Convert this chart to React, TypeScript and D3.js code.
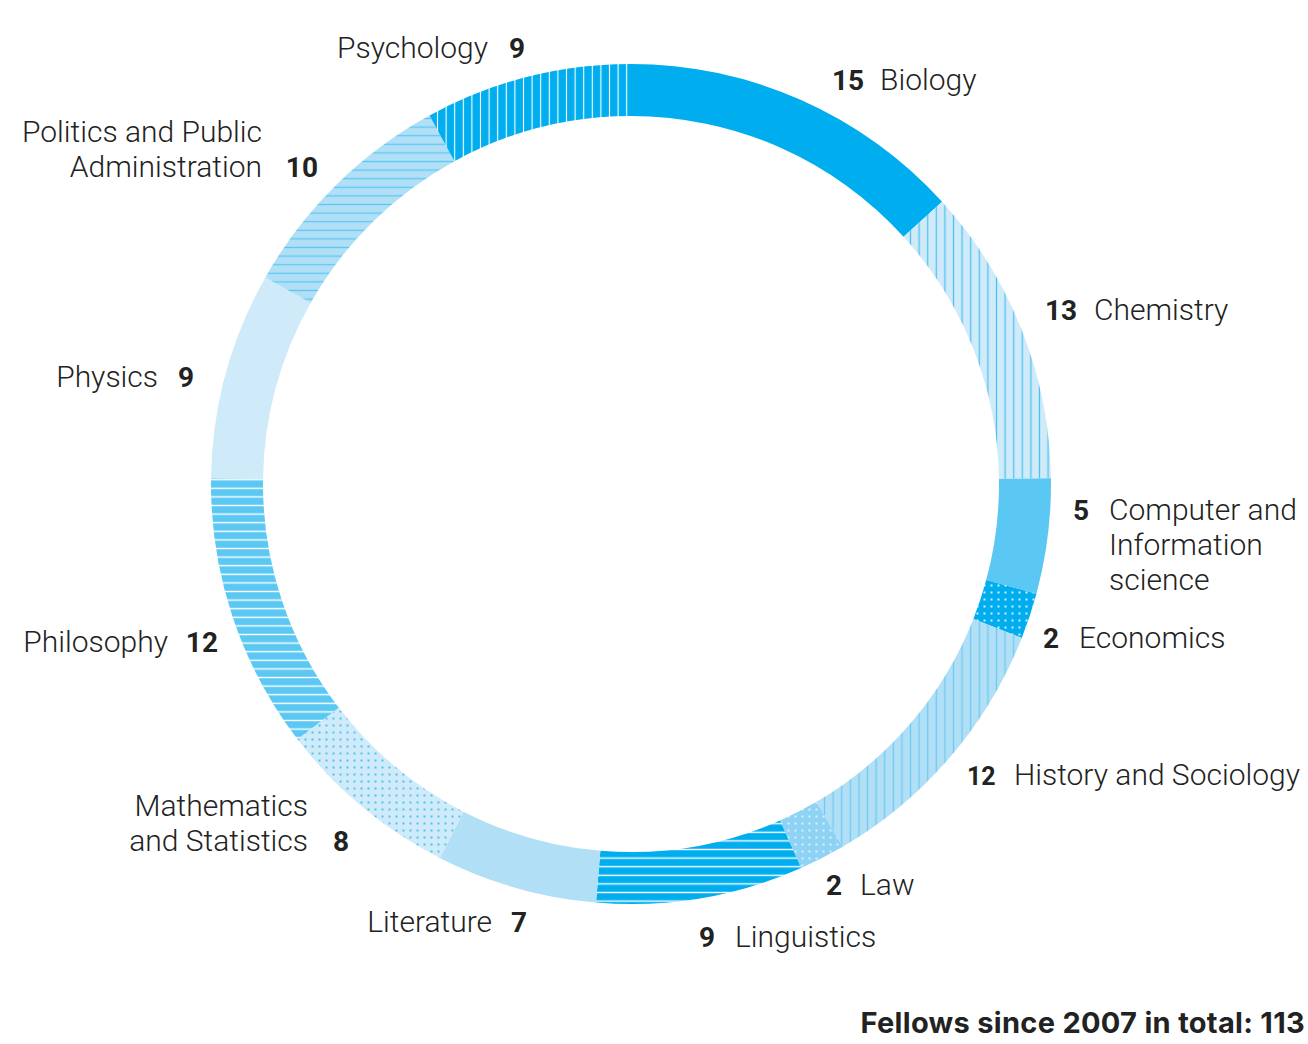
import * as d3 from 'd3';

const subjects = [
  'Biology', 'Chemistry', 'Computer and Information science', 'Economics',
  'History and Sociology', 'Law', 'Linguistics', 'Literature',
  'Mathematics and Statistics', 'Philosophy', 'Physics',
  'Politics and Public Administration', 'Psychology',
];
const fellows = [15, 13, 5, 2, 12, 2, 9, 7, 8, 12, 9, 10, 9];
const total = 113;

// fill style per subject (pattern id or colour)
const fills = [
  '#00aeef', 'url(#p-chem)', '#5bc8f3', 'url(#p-econ)',
  'url(#p-hist)', 'url(#p-law)', 'url(#p-ling)', '#b1dff6',
  'url(#p-math)', 'url(#p-phil)', '#cfeaf9', 'url(#p-pol)', 'url(#p-psy)',
];

// label layout: name lines, number x, name x, baseline of the number's line
type Lbl = { lines: string[]; nx: number; tx: number; y: number; numFirst: boolean; numSize?: number };
const labels: Lbl[] = [
  { lines: ['Biology'], nx: 832, tx: 880, y: 90, numFirst: true },
  { lines: ['Chemistry'], nx: 1045, tx: 1094, y: 320, numFirst: true },
  { lines: ['Computer and', 'Information', 'science'], nx: 1073, tx: 1109, y: 520, numFirst: true },
  { lines: ['Economics'], nx: 1043, tx: 1079, y: 648, numFirst: true },
  { lines: ['History and Sociology'], nx: 967, tx: 1014, y: 785, numFirst: true, numSize: 25 },
  { lines: ['Law'], nx: 826, tx: 860, y: 895, numFirst: true },
  { lines: ['Linguistics'], nx: 699, tx: 735, y: 947, numFirst: true },
  { lines: ['Literature'], nx: 527, tx: 492, y: 932, numFirst: false },
  { lines: ['Mathematics', 'and Statistics'], nx: 349, tx: 308, y: 851, numFirst: false },
  { lines: ['Philosophy'], nx: 218, tx: 168, y: 652, numFirst: false },
  { lines: ['Physics'], nx: 194, tx: 158, y: 387, numFirst: false },
  { lines: ['Politics and Public', 'Administration'], nx: 318, tx: 262, y: 177, numFirst: false },
  { lines: ['Psychology'], nx: 525, tx: 488, y: 58, numFirst: false },
];

const W = 1308;
const H = 1044;
const cx = 631;
const cy = 484;
const rOuter = 420;
const rInner = 368;
const lineH = 35;
const font = "Roboto, 'Helvetica Neue', Arial, sans-serif";
const ink = '#222222';

function LinePattern({ id, bg, stroke, vertical, sw = 1.3, step = 8.6 }: {
  id: string; bg: string; stroke: string; vertical: boolean; sw?: number; step?: number;
}) {
  return (
    <pattern id={id} patternUnits="userSpaceOnUse" width={step} height={step}>
      <rect width={step} height={step} fill={bg} />
      {vertical
        ? <line x1={step / 2} x2={step / 2} y1={0} y2={step} stroke={stroke} strokeWidth={sw} />
        : <line y1={step / 2} y2={step / 2} x1={0} x2={step} stroke={stroke} strokeWidth={sw} />}
    </pattern>
  );
}

function DotPattern({ id, bg, dot, step = 7, r = 1 }: { id: string; bg: string; dot: string; step?: number; r?: number }) {
  return (
    <pattern id={id} patternUnits="userSpaceOnUse" width={step} height={step}>
      <rect width={step} height={step} fill={bg} />
      <rect x={step / 2 - r} y={step / 2 - r} width={r * 2} height={r * 2} fill={dot} />
    </pattern>
  );
}

export default function App() {
  const pie = d3.pie<number>().sort(null).value((d) => d);
  const arcs = pie(fellows);
  const arc = d3.arc<d3.PieArcDatum<number>>().innerRadius(rInner).outerRadius(rOuter);

  return (
    <svg width={W} height={H} style={{ position: 'absolute', left: 0, top: 0, background: '#fff' }}>
      <defs>
        <LinePattern id="p-chem" bg="#cfeaf9" stroke="#4fc2f2" vertical />
        <LinePattern id="p-hist" bg="#b1dff6" stroke="#6ccbf3" vertical />
        <LinePattern id="p-psy" bg="#00aeef" stroke="#ffffff" vertical sw={1.1} />
        <LinePattern id="p-ling" bg="#00aeef" stroke="#ffffff" vertical={false} sw={1.4} />
        <LinePattern id="p-phil" bg="#5bc8f3" stroke="#ffffff" vertical={false} sw={1.4} />
        <LinePattern id="p-pol" bg="#b1dff6" stroke="#5bc8f3" vertical={false} />
        <DotPattern id="p-econ" bg="#00aeef" dot="#cdeefc" />
        <DotPattern id="p-law" bg="#8fd3f4" dot="#d8f1fc" />
        <DotPattern id="p-math" bg="#cfeaf9" dot="#4fc2f2" />
      </defs>
      <g transform={`translate(${cx},${cy})`}>
        {arcs.map((a, i) => (
          <path key={subjects[i]} d={arc(a) ?? ''} fill={fills[i]} />
        ))}
      </g>
      <g fontFamily={font} fill={ink}>
        {labels.map((l, i) => {
          const n = fellows[i];
          const numSize = l.numSize ?? 28;
          if (l.numFirst) {
            return (
              <g key={subjects[i]}>
                <text x={l.nx} y={l.y} fontSize={numSize} fontWeight={700}>{n}</text>
                {l.lines.map((t, j) => (
                  <text key={j} x={l.tx} y={l.y + j * lineH} fontSize={30} fontWeight={300}>{t}</text>
                ))}
              </g>
            );
          }
          const last = l.lines.length - 1;
          return (
            <g key={subjects[i]}>
              {l.lines.map((t, j) => (
                <text key={j} x={l.tx} y={l.y + (j - last) * lineH} fontSize={30} fontWeight={300} textAnchor="end">{t}</text>
              ))}
              <text x={l.nx} y={l.y} fontSize={numSize} fontWeight={700} textAnchor="end">{n}</text>
            </g>
          );
        })}
        <text x={1305} y={1033} fontSize={29} fontWeight={700} textAnchor="end" fontFamily="Inter, Roboto, sans-serif" letterSpacing={0.3}>
          {`Fellows since 2007 in total: ${total}`}
        </text>
      </g>
    </svg>
  );
}
